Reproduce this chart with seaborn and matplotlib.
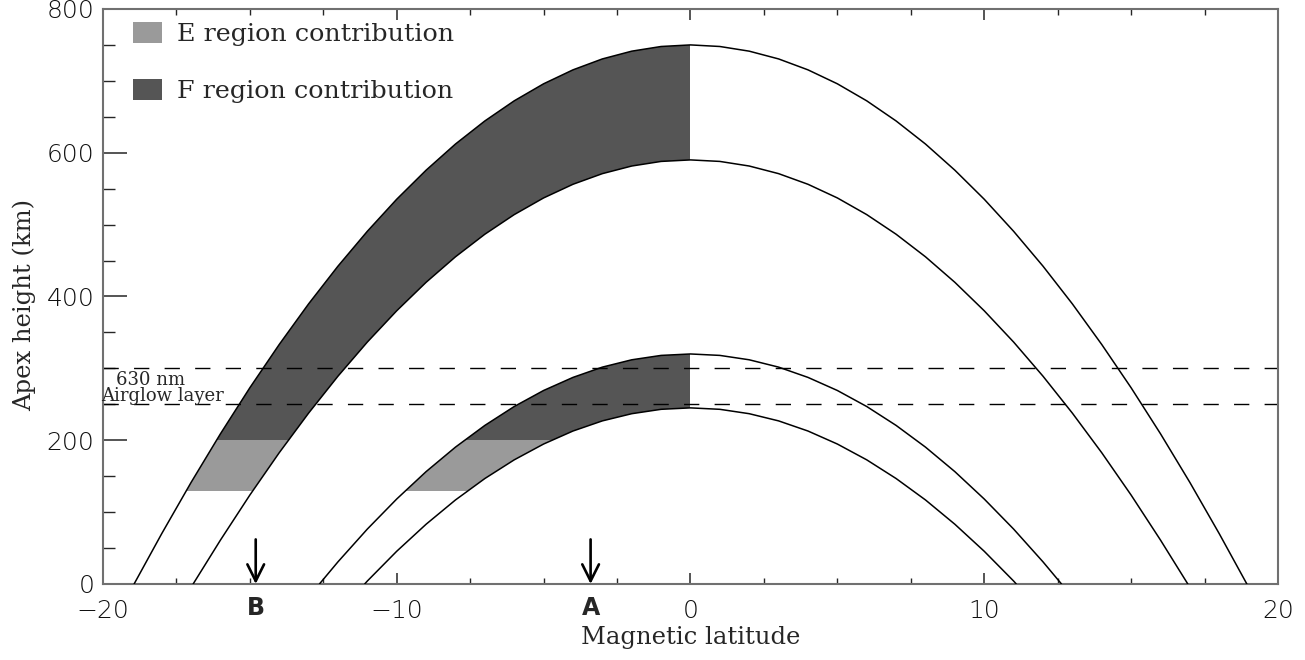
import matplotlib
matplotlib.use("Agg")
import matplotlib.pyplot as plt
from matplotlib.patches import Rectangle, Patch
from matplotlib.ticker import MultipleLocator
import pandas as pd
import seaborn as sns

# field lines: height (km) at magnetic latitude 0,1,2,... deg, plus the foot latitude where height = 0
lat_grid = list(range(0, 19))
h_750 = [750, 747.8, 741.3, 730.5, 715.3, 695.9, 672.2, 644.2, 612.1, 575.7,
         535.3, 490.7, 442.2, 389.7, 333.2, 273.0, 209.0, 141.3, 70.0]
h_590 = [590, 587.9, 581.5, 570.9, 556.1, 537.1, 513.9, 486.6, 455.2, 419.7,
         380.1, 336.6, 289.1, 237.7, 182.6, 123.7, 61.1]
h_320 = [320, 318.0, 311.9, 301.7, 287.4, 269.2, 246.9, 220.6, 190.4, 156.3,
         118.2, 76.4, 30.8]
h_245 = [245, 243.0, 236.9, 226.9, 212.8, 194.7, 172.7, 146.7, 116.9, 83.1,
         45.5, 4.1]
foot_lat = {"750": 18.94, "590": 16.93, "320": 12.63, "245": 11.09}
half_heights = {"750": h_750, "590": h_590, "320": h_320, "245": h_245}

# layers (km)
e_bottom, e_top = 130, 200
airglow = [250, 300]
arrow_lat = [-14.8, -3.4]
arrow_labels = ["B", "A"]
arrow_top = 62

E_COLOR = "#9a9a9a"
F_COLOR = "#555555"


def half_line(name):
    lats = lat_grid[:len(half_heights[name])] + [foot_lat[name]]
    hs = half_heights[name] + [0]
    return lats, hs


rows = []
for name in half_heights:
    lats, hs = half_line(name)
    xs = [-v for v in lats[::-1]] + lats[1:]
    ys = hs[::-1] + hs[1:]
    for x, y in zip(xs, ys):
        rows.append({"line": name, "lat": x, "height": y})
df = pd.DataFrame(rows)

sns.set_theme(style="ticks")
plt.rcParams["font.family"] = ["DejaVu Serif"]

fig = plt.figure(figsize=(13.05, 6.6), dpi=100)
ax = fig.add_axes([0.0789, 0.1152, 0.9004, 0.8712])


def pair_polygon(outer, inner):
    lo, ho = half_line(outer)
    li, hi = half_line(inner)
    xs = [-v for v in lo[::-1]] + [0] + [-v for v in li]
    ys = ho[::-1] + [hi[0]] + hi
    return xs, ys


for outer, inner in [("750", "590"), ("320", "245")]:
    xs, ys = pair_polygon(outer, inner)
    for y0, y1, col in [(e_top, 800, F_COLOR), (e_bottom, e_top, E_COLOR)]:
        polys = ax.fill(xs, ys, color=col, lw=0, zorder=1)
        clip = Rectangle((-20, y0), 20, y1 - y0, transform=ax.transData)
        for p in polys:
            p.set_clip_path(clip)

sns.lineplot(data=df, x="lat", y="height", units="line", estimator=None,
             sort=False, color="black", lw=1.1, ax=ax, zorder=3)

for h in airglow:
    ax.axhline(h, color="black", lw=1.0, ls=(0, (11, 11)), zorder=2)

ax.text(-19.55, 284, "630 nm", fontsize=13, va="center", ha="left", zorder=4)
ax.text(-20.05, 261, "Airglow layer", fontsize=13, va="center", ha="left", zorder=4)

for lat, lab in zip(arrow_lat, arrow_labels):
    ax.annotate("", xy=(lat, 0), xytext=(lat, arrow_top),
                arrowprops=dict(arrowstyle="->", lw=1.9, color="black",
                                mutation_scale=30, shrinkA=0, shrinkB=0),
                zorder=5)
    ax.text(lat, -0.042, lab, transform=ax.get_xaxis_transform(),
            ha="center", va="center", fontsize=17, fontweight="bold",
            family="DejaVu Sans")

ax.set_xlim(-20, 20)
ax.set_ylim(0, 800)
ax.xaxis.set_major_locator(MultipleLocator(10))
ax.xaxis.set_minor_locator(MultipleLocator(2.5))
ax.yaxis.set_major_locator(MultipleLocator(200))
ax.yaxis.set_minor_locator(MultipleLocator(50))

ax.tick_params(axis="y", which="major", direction="in", length=17, width=1.1,
               left=True, right=False, pad=6, labelsize=18, labelcolor="#111111")
ax.tick_params(axis="y", which="minor", direction="in", length=8.5, width=1.0,
               left=True, right=False)
ax.tick_params(axis="x", which="major", direction="in", length=8, width=1.1,
               top=True, bottom=True, pad=11, labelsize=18, labelcolor="#111111")
ax.tick_params(axis="x", which="minor", direction="in", length=4, width=1.0,
               top=True, bottom=True)
for lab in ax.get_xticklabels() + ax.get_yticklabels():
    lab.set_family(["DejaVu Sans"])
    lab.set_fontweight("light")

for sp in ax.spines.values():
    sp.set_color("#707070")
    sp.set_linewidth(1.5)
    sp.set_visible(True)

ax.set_xlabel("Magnetic latitude", fontsize=17.5, labelpad=2)
ax.set_ylabel("Apex height (km)", fontsize=17.5)
ax.yaxis.set_label_coords(-0.057, 0.485)

handles = [Patch(facecolor=E_COLOR, edgecolor="none", label="E region contribution"),
           Patch(facecolor=F_COLOR, edgecolor="none", label="F region contribution")]
ax.legend(handles=handles, loc="upper left", bbox_to_anchor=(0.0255, 0.978),
          frameon=False, fontsize=18.3, handlelength=1.15, handleheight=0.92,
          labelspacing=1.28, handletextpad=0.6, borderpad=0, borderaxespad=0)

fig.savefig("out.png", dpi=100)
